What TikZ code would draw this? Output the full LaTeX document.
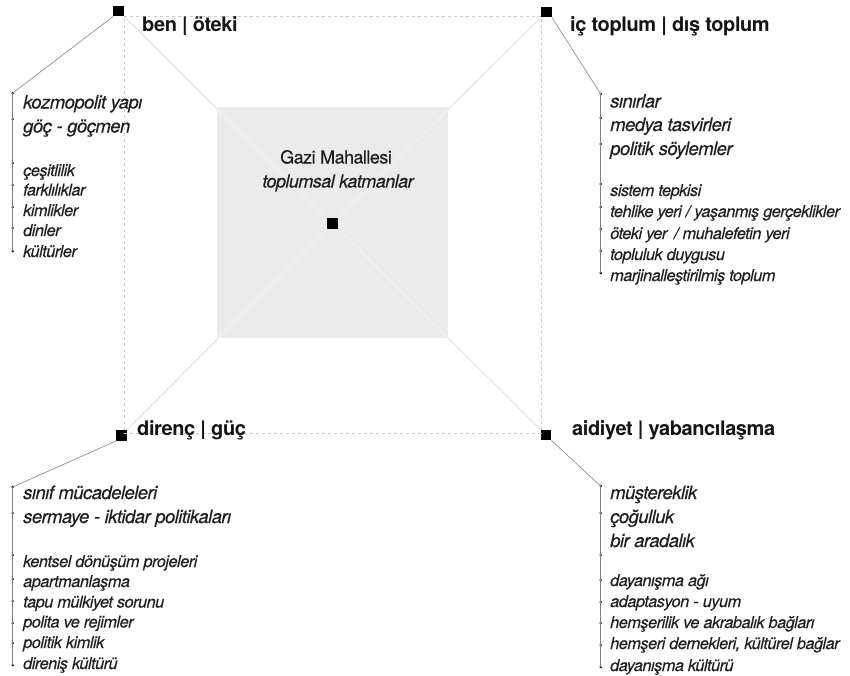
\documentclass[tikz,border=0pt]{standalone}
\usepackage{fontspec}
\setmainfont{TeX Gyre Heros}
\newfontfamily\itemfont{TeX Gyre Heros}[LetterSpace=-3,FakeBold=0.3]
\newfontfamily\headfont{TeX Gyre Heros}[LetterSpace=-2]
\begin{document}
\begin{tikzpicture}[x=1pt,y=-1pt,
  mk/.style={rectangle,fill=black,inner sep=0pt,minimum size=10.5pt},
  hd/.style={font=\headfont\fontsize{20}{23}\selectfont\bfseries,anchor=base west,inner sep=0pt,text=black!92},
  lg/.style={font=\itemfont\fontsize{18.5}{22}\selectfont\itshape,anchor=base west,inner sep=0pt,text=black!88},
  sm/.style={font=\itemfont\fontsize{16.3}{19}\selectfont\itshape,anchor=base west,inner sep=0pt,text=black!88},
  ct/.style={font=\itemfont\fontsize{18}{21}\selectfont,anchor=base,inner sep=0pt,text=black!88},
  dt/.style={circle,fill=black,inner sep=0pt,minimum size=2.6pt},
  guide/.style={draw=black!20,dash pattern=on 3pt off 3pt,line width=0.6pt},
  diag/.style={draw=black!15,line width=0.7pt},
  diagin/.style={draw=black!3,line width=0.7pt},
  conn/.style={draw=black!45,line width=0.65pt},
  vline/.style={draw=black!50,line width=0.55pt}]
\useasboundingbox (0,0) rectangle (850,675);

% corner coordinates of the guide frame
\coordinate (gtl) at (124,16);
\coordinate (gtr) at (541,16);
\coordinate (gbr) at (541,433);
\coordinate (gbl) at (124,433);

% markers
\node[mk] (tl) at (118.7,11) {};
\node[mk] (tr) at (546.5,12) {};
\node[mk] (bl) at (121.5,435.5) {};
\node[mk] (br) at (546,435) {};
\node[mk] (c) at (332.5,223.5) {};

% diagonals
\draw[diag] (tl.south east) -- (c.center) -- (br.north west);
\draw[diag] (tr.south west) -- (c.center) -- (bl.north east);

% grey square
\node[rectangle,fill=black!8,inner sep=0pt,minimum width=231pt,minimum height=231pt] (sq) at (332.5,222.5) {};
\begin{scope}
\clip (sq.north west) rectangle (sq.south east);
\draw[diagin] (tl.south east) -- (c.center) -- (br.north west);
\draw[diagin] (tr.south west) -- (c.center) -- (bl.north east);
\end{scope}
\node[mk] at (c) {};

% dashed frame
\draw[guide] (gtl) -- (gtr) -- (gbr) -- (gbl) -- cycle;

% headings
\node[hd] (h1) at (142,31.5) {ben | öteki};
\node[hd] (h2) at (570,31) {iç toplum | dış toplum};
\node[hd] (h3) at (137,435) {direnç | güç};
\node[hd] (h4) at (572,435.5) {aidiyet | yabancılaşma};

% centre text
\node[ct] (c1) at (336,163.5) {Gazi Mahallesi};
\node[ct,font=\itemfont\fontsize{18}{21}\selectfont\itshape] (c2) at (338,187.5) {toplumsal katmanlar};

% ---------- top-left list
\foreach \n/\y in {1/93,2/119,3/163,4/185,5/207,6/228,7/251}
  \node[dt] (a\n) at (12.7,\y) {};
\draw[conn] (tl.south west) -- (a1.center);
\draw[vline] (a1.center) -- (a7.center);
\node[lg] at (23,108.5) {kozmopolit yapı};
\node[lg] at (23,132.5) {göç - göçmen};
\node[sm] at (23,176) {çeşitlilik};
\node[sm] at (23,195.5) {farklılıklar};
\node[sm] at (23,216) {kimlikler};
\node[sm] at (23,236) {dinler};
\node[sm] at (23,257) {kültürler};

% ---------- top-right list
\foreach \n/\y in {1/94,2/118,3/144,4/184,5/207,6/229,7/251,8/273}
  \node[dt] (b\n) at (600.7,\y) {};
\draw[conn] (tr.south east) -- (b1.center);
\draw[vline] (b1.center) -- (b8.center);
\node[lg] at (610,107.5) {sınırlar};
\node[lg] at (610,131) {medya tasvirleri};
\node[lg] at (610,155) {politik söylemler};
\node[sm] at (610,196) {sistem tepkisi};
\node[sm] at (610,217) {tehlike yeri / yaşanmış gerçeklikler};
\node[sm] at (610,239) {öteki yer\, / muhalefetin yeri};
\node[sm] at (610,260) {topluluk duygusu};
\node[sm] at (610,281) {marjinalleştirilmiş toplum};

% ---------- bottom-left list
\foreach \n/\y in {1/487,2/513,3/555,4/579,5/601,6/623,7/643,8/665}
  \node[dt] (d\n) at (12.7,\y) {};
\draw[conn] (bl.south west) -- (d1.center);
\draw[vline] (d1.center) -- (d8.center);
\node[lg] at (23,499) {sınıf mücadeleleri};
\node[lg] at (23,523) {sermaye - iktidar politikaları};
\node[sm] at (23,567) {kentsel dönüşüm projeleri};
\node[sm] at (23,587) {apartmanlaşma};
\node[sm] at (23,607.5) {tapu mülkiyet sorunu};
\node[sm] at (23,627.5) {polita ve rejimler};
\node[sm] at (23,648) {politik kimlik};
\node[sm] at (23,669) {direniş kültürü};

% ---------- bottom-right list
\foreach \n/\y in {1/486,2/513,3/555,4/580,5/602,6/623,7/645,8/667}
  \node[dt] (e\n) at (600.7,\y) {};
\draw[conn] (br.south east) -- (e1.center);
\draw[vline] (e1.center) -- (e8.center);
\node[lg] at (610,499) {müştereklik};
\node[lg] at (610,523) {çoğulluk};
\node[lg] at (610,547) {bir aradalık};
\node[sm] at (610,586) {dayanışma ağı};
\node[sm] at (610,607) {adaptasyon - uyum};
\node[sm] at (610,628) {hemşerilik ve akrabalık bağları};
\node[sm] at (610,649) {hemşeri dernekleri, kültürel bağlar};
\node[sm] at (610,671) {dayanışma kültürü};
\end{tikzpicture}
\end{document}
